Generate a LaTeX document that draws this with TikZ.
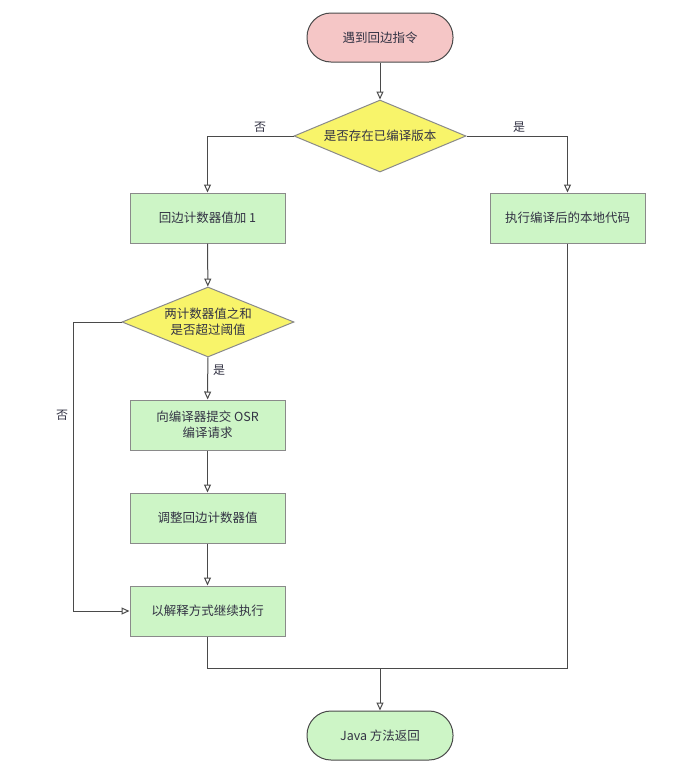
\documentclass[tikz,border=0pt]{standalone}
\usepackage{fontspec}
\setmainfont{Noto Sans CJK SC}
\usetikzlibrary{arrows.meta,shapes.geometric}
\definecolor{boxfill}{HTML}{CDF5C6}
\definecolor{boxline}{HTML}{8A8A8A}
\definecolor{pinkfill}{HTML}{F5C6C6}
\definecolor{yel}{HTML}{F8F46A}
\definecolor{txt}{HTML}{333344}
\definecolor{ln}{HTML}{4A4A4A}
\tikzset{
  every node/.style={font=\fontsize{12.5}{16}\selectfont, text=txt},
  procbox/.style={rectangle, draw=boxline, fill=boxfill, line width=1pt, minimum width=155pt, minimum height=50pt, align=center, inner sep=0pt},
  term/.style={rectangle, rounded corners=24pt, draw=ln, line width=1pt, minimum width=146pt, minimum height=49pt, inner sep=0pt},
  decis/.style={diamond, draw=boxline, fill=yel, line width=1pt, minimum width=172pt, minimum height=72pt, aspect=2.4, inner sep=0pt, align=center},
  conn/.style={draw=ln, line width=1pt, -{Triangle[open, length=8pt, width=7pt]}},
  plain/.style={draw=ln, line width=1pt},
  lbl/.style={font=\fontsize{12}{14}\selectfont}
}
\begin{document}
\begin{tikzpicture}[x=1pt, y=-1pt]
\useasboundingbox (0,0) rectangle (699,777);
\node[term, fill=pinkfill] (start) at (380,37.5) {遇到回边指令};
\node[decis] (d1) at (380,136) {是否存在已编译版本};
\node[procbox] (inc) at (207.5,218) {回边计数器值加 1};
\node[procbox] (nat) at (567.5,218) {执行编译后的本地代码};
\node[decis, minimum height=70pt] (d2) at (208,322) {两计数器值之和\\是否超过阈值};
\node[procbox] (osr) at (207.5,425) {向编译器提交 OSR\\编译请求};
\node[procbox] (adj) at (207.5,518) {调整回边计数器值};
\node[procbox] (interp) at (207.5,611) {以解释方式继续执行};
\node[term, fill=boxfill] (end) at (380,735.5) {Java 方法返回};
\coordinate (merge) at (380,668);

\draw[conn] (start) -- (d1);
\draw[conn] (d1.west) -| (inc.north);
\draw[conn] (d1.east) -| (nat.north);
\draw[conn] (inc) -- (d2);
\draw[conn] (d2) -- (osr);
\draw[conn] (osr) -- (adj);
\draw[conn] (adj) -- (interp);
\draw[conn] (d2.west) -- ++(-48,0) |- (interp.west);
\draw[plain] (interp.south) |- (merge);
\draw[plain] (nat.south) |- (merge);
\draw[conn] (merge) -- (end);

\node[lbl] (no1) at (260,127) {否};
\node[lbl] (yes1) at (519,127) {是};
\node[lbl] (yes2) at (219,370) {是};
\node[lbl] (no2) at (62,415) {否};
\end{tikzpicture}
\end{document}
